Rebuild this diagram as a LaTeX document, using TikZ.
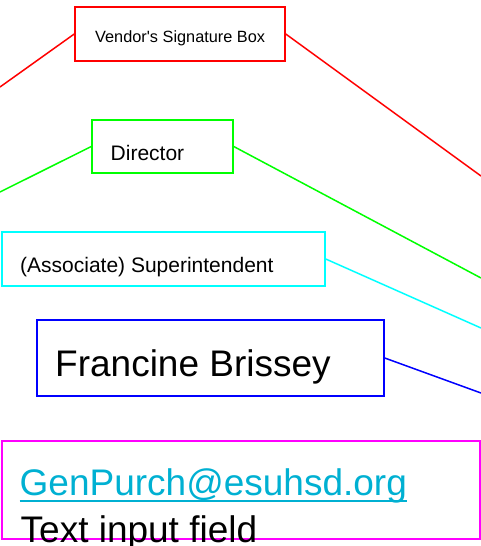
\documentclass[tikz,border=0pt]{standalone}
\usepackage{fontspec}
\setmainfont{Liberation Sans}
\definecolor{maillink}{RGB}{0,176,210}
\definecolor{sigred}{RGB}{255,0,0}
\definecolor{siggreen}{RGB}{0,255,0}
\definecolor{sigcyan}{RGB}{0,255,255}
\definecolor{sigblue}{RGB}{0,0,255}
\definecolor{sigmagenta}{RGB}{255,0,255}

\begin{document}
\begin{tikzpicture}[x=1pt,y=-1pt,
        sigbox/.style={draw=#1,line width=1.5pt,inner sep=0pt},
        wire/.style={#1,line width=1.5pt},
        lbl/.style={anchor=base west,inner sep=0pt}]
        \useasboundingbox (0,0) rectangle (481,546);
        % boxes
        \node[sigbox=sigred,minimum width=210,minimum height=54] (vendor) at (180,34) {};
        \node[sigbox=siggreen,minimum width=141,minimum height=53] (director) at (162.5,146.5) {};
        \node[sigbox=sigcyan,minimum width=323,minimum height=54] (super) at (163.5,259) {};
        \node[sigbox=sigblue,minimum width=347,minimum height=76] (name) at (210.5,358) {};
        \node[sigbox=sigmagenta,minimum width=478,minimum height=98] (field) at (241,490) {};
        % texts
        \node[lbl,font=\fontsize{16.3}{19}\selectfont] (vendortxt) at (95,42) {Vendor\textquotesingle s Signature Box};
        \node[lbl,font=\fontsize{21}{25}\selectfont] (directortxt) at (110.5,160) {Director};
        \node[lbl,font=\fontsize{21}{25}\selectfont] (supertxt) at (20,272) {(Associate) Superintendent};
        \node[lbl,font=\fontsize{37}{44}\selectfont] (nametxt) at (55,376) {Francine Brissey};
        \node[lbl,font=\fontsize{37}{44}\selectfont,text=maillink] (mail) at (19.5,495) {GenPurch@esuhsd.org};
        \node[lbl,font=\fontsize{37}{44}\selectfont] (fieldtxt) at (20.5,542) {Text input field};
        \draw[wire=maillink] ([yshift=-6pt]mail.base west) -- ([yshift=-6pt]mail.base east);
        % free ends at the edges
        \coordinate (vendorL) at (0,87);
        \coordinate (vendorR) at (481,176);
        \coordinate (directorL) at (0,192);
        \coordinate (directorR) at (481,278);
        \coordinate (superR) at (481,328);
        \coordinate (nameR) at (481,393);
        \draw[wire=sigred] (vendorL) -- (vendor.west);
        \draw[wire=sigred] (vendor.east) -- (vendorR);
        \draw[wire=siggreen] (directorL) -- (director.west);
        \draw[wire=siggreen] (director.east) -- (directorR);
        \draw[wire=sigcyan] (super.east) -- (superR);
        \draw[wire=sigblue] (name.east) -- (nameR);
\end{tikzpicture}
\end{document}
